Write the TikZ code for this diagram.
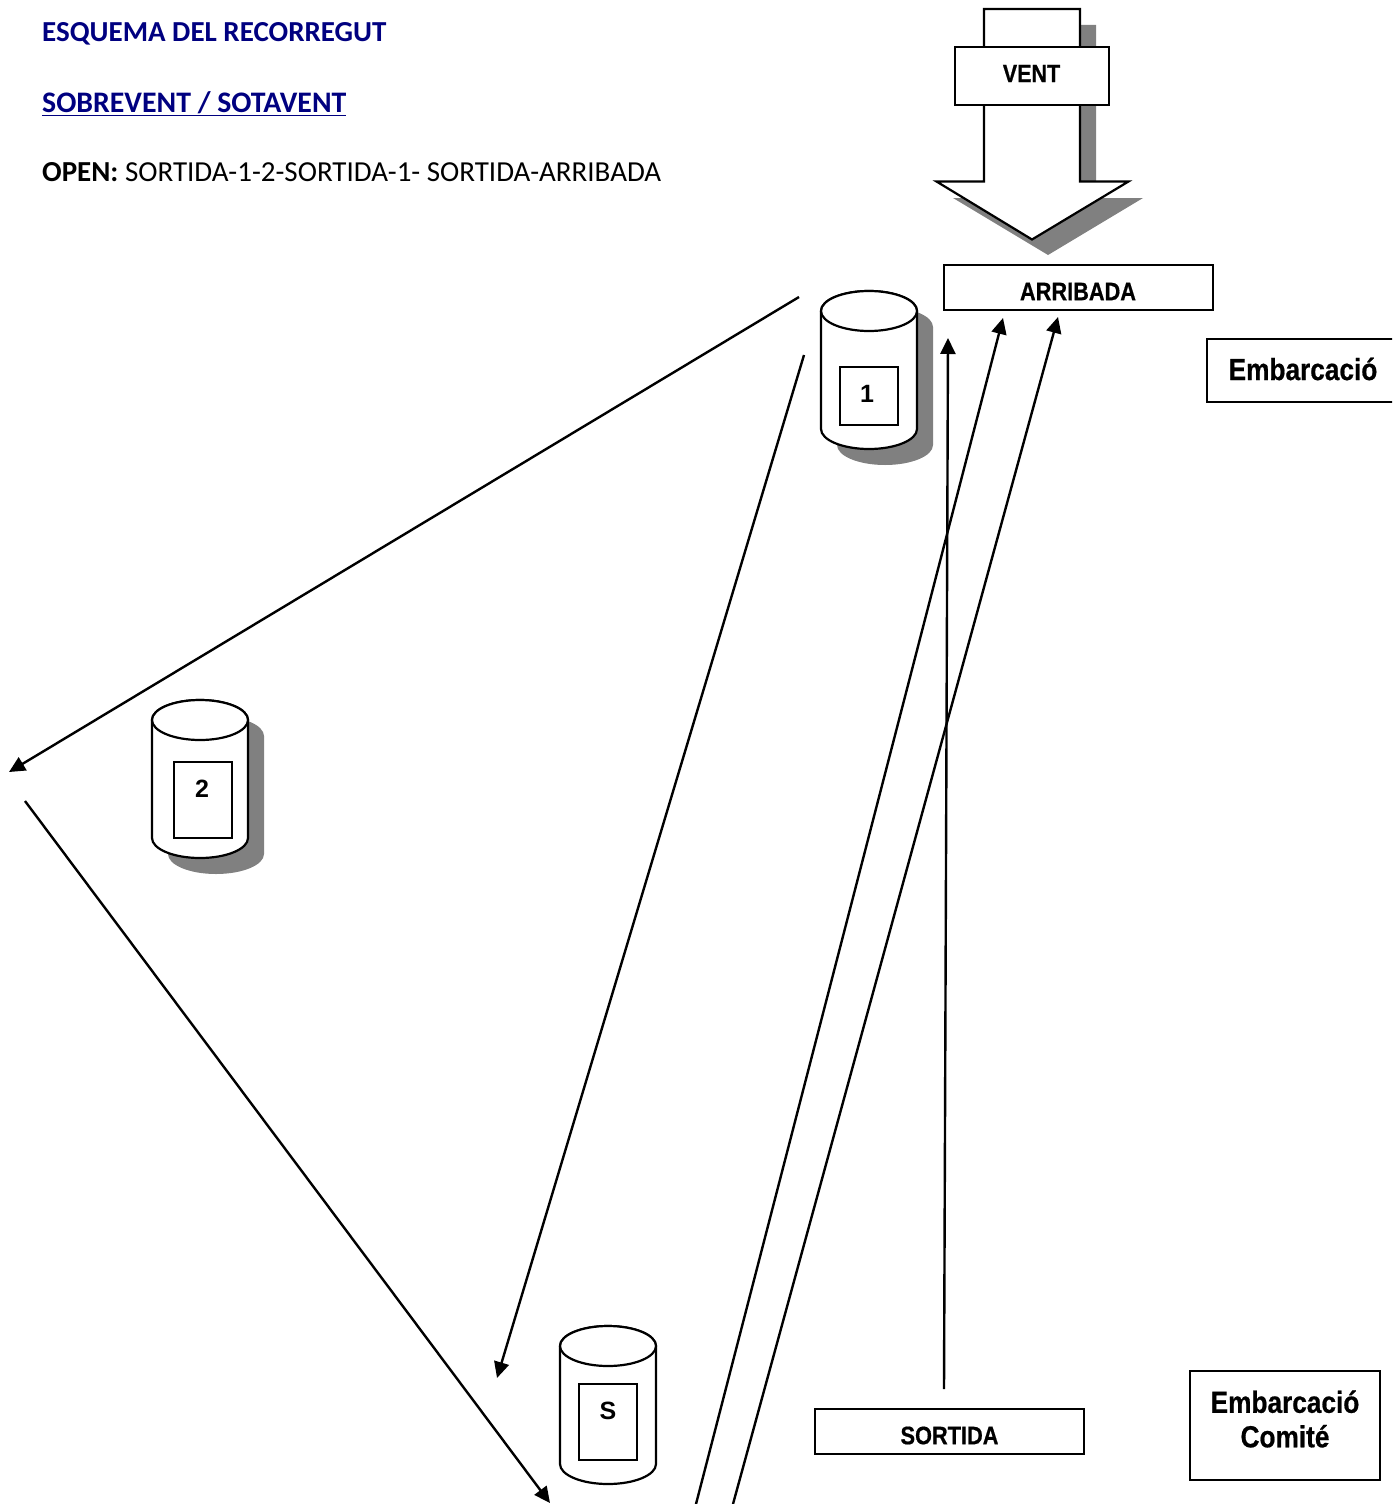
\documentclass[tikz,border=0pt]{standalone}
\usepackage{fontspec}
\setmainfont{Carlito}
\newfontfamily\narrowb[FakeStretch=0.86,FakeBold=0.6]{Liberation Sans}
\newfontfamily\plainb{Liberation Sans}
\usetikzlibrary{arrows.meta}
\definecolor{headnavy}{RGB}{0,0,128}
\definecolor{shadowgray}{RGB}{128,128,128}
\tikzset{
  outl/.style={draw=black,line width=2.2pt,fill=white,line join=miter},
  course/.style={draw=black,line width=2.4pt,-{Triangle[length=16pt,width=15pt]}},
  heading/.style={anchor=base west,inner sep=0pt,font=\fontsize{29}{33}\selectfont},
  lab/.style={inner sep=0pt,font=\narrowb\bfseries\fontsize{#1}{#1}\selectfont,align=center},
  digit/.style={inner sep=0pt,font=\plainb\bfseries\fontsize{25}{25}\selectfont},
  framed/.style={draw=black,line width=2.2pt,inner sep=0pt},
  filledbox/.style={framed,fill=white}
}
\newcommand{\buoyshadow}[2]{%
  \fill[shadowgray,shift={(16,16)}] (#1-48,#2+20) -- (#1-48,#2+138) arc[start angle=180,end angle=0,x radius=48,y radius=20] -- (#1+48,#2+20) arc[start angle=0,end angle=-180,x radius=48,y radius=20] -- cycle;
}
\newcommand{\buoybody}[2]{%
  \draw[outl] (#1-48,#2+20) -- (#1-48,#2+138) arc[start angle=180,end angle=0,x radius=48,y radius=20] -- (#1+48,#2+20) arc[start angle=0,end angle=-180,x radius=48,y radius=20] -- cycle;
  \draw[outl] (#1,#2+20) circle[x radius=48,y radius=20];
}
\begin{document}
\begin{tikzpicture}[x=1pt,y=-1pt]
\useasboundingbox (0,0) rectangle (1392,1504);
\clip (0,0) rectangle (1392,1504);

% headings
\node[heading,text=headnavy] (h1) at (42,42) {\textbf{ESQUEMA DEL RECORREGUT}};
\node[heading,text=headnavy,font=\fontsize{29.8}{33}\selectfont] (h2) at (42,112.5) {\textbf{\underline{SOBREVENT / SOTAVENT}}};
\node[heading,text=black] (h3) at (42,181) {\textbf{OPEN:} SORTIDA-1-2-SORTIDA-1- SORTIDA-ARRIBADA};

% wind arrow
\fill[shadowgray] (1080,25) -- (1096,25) -- (1096,198) -- (1143,198) -- (1048,255) -- (953,198) -- (1000,198) -- cycle;
\draw[outl] (984,9) -- (1080,9) -- (1080,181.5) -- (1128.5,181.5) -- (1032,239.5) -- (936.5,181.5) -- (984,181.5) -- cycle;
\node[filledbox,minimum width=154pt,minimum height=58pt] (vent) at (1032,76) {};
\node[lab=25] (ventt) at (1031.5,73.5) {VENT};

% buoys
\buoyshadow{869}{291}
\buoybody{869}{291}
\node[framed,minimum width=58pt,minimum height=58pt] (box1) at (869,396) {};
\node[digit] (t1) at (867,394) {1};
\buoyshadow{200}{700}
\buoybody{200}{700}
\node[framed,minimum width=58pt,minimum height=76pt] (box2) at (203,800) {};
\node[digit] (t2) at (202,789) {2};
\buoybody{608}{1326}
\node[framed,minimum width=58pt,minimum height=76pt] (boxs) at (608,1422) {};
\node[digit] (ts) at (608,1411) {S};

% label boxes
\node[filledbox,minimum width=269pt,minimum height=45pt] (arr) at (1078.5,287.5) {};
\node[lab=25.3] (arrt) at (1078,291.5) {ARRIBADA};
\node[filledbox,minimum width=269pt,minimum height=45pt] (sor) at (949.5,1431.5) {};
\node[lab=25.3] (sort) at (949.5,1435.5) {SORTIDA};
\node[filledbox,minimum width=200pt,minimum height=63pt] (emb) at (1307,370.5) {};
\node[lab=30.5] (embt) at (1303,369) {Embarcació};
\node[filledbox,minimum width=190pt,minimum height=109pt] (com) at (1285,1425.5) {};
\node[lab=30.5] (comt) at (1285,1419) {Embarcació\\[4pt]Comité};

% named free ends of connectors
\coordinate (a0) at (799,297); \coordinate (a1) at (9,772);
\coordinate (b0) at (804,355); \coordinate (b1) at (497,1378);
\coordinate (c0) at (696,1504); \coordinate (c1) at (1003,318);
\coordinate (d0) at (733,1504); \coordinate (d1) at (1058,317);
\coordinate (e0) at (944,1389); \coordinate (e1) at (948,338);
\coordinate (f0) at (25,801); \coordinate (f1) at (550,1503);
\draw[course] (a0) -- (a1);
\draw[course] (b0) -- (b1);
\draw[course] (c0) -- (c1);
\draw[course] (d0) -- (d1);
\draw[course] (e0) -- (e1);
\draw[course] (f0) -- (f1);
\end{tikzpicture}
\end{document}
